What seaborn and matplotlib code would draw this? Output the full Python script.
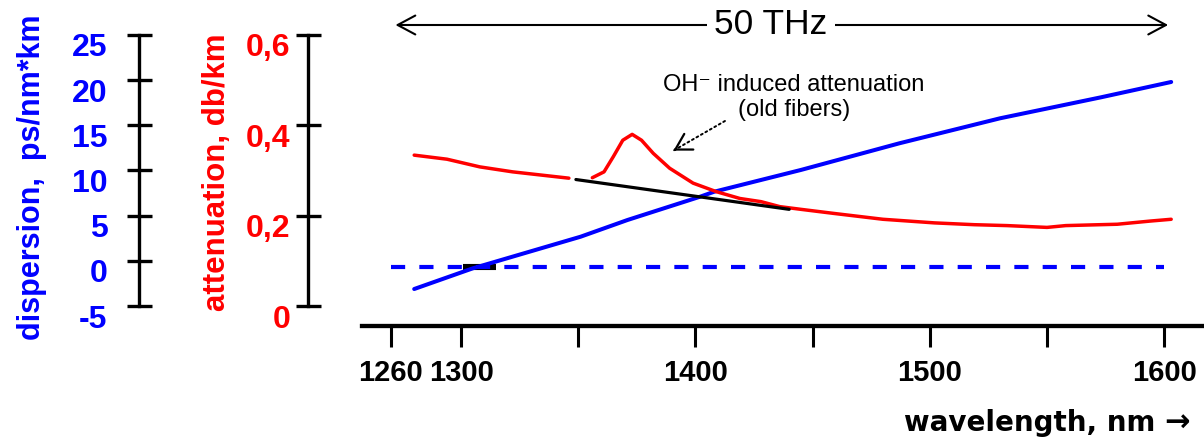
import matplotlib
matplotlib.use('Agg')
import matplotlib.pyplot as plt
import matplotlib.transforms as mtransforms
import seaborn as sns

# dispersion curve, ps/nm*km
disp_wl = [1280, 1305, 1351, 1371, 1402, 1408, 1445, 1487, 1530, 1573, 1603]
disp_val = [-3.12, -0.83, 2.67, 4.52, 7.10, 7.65, 10.06, 13.01, 15.78, 18.10, 19.80]

# zero dispersion reference (dashed) and the short black marker on it
zero_wl = [1270, 1600]
zero_val = [-0.68, -0.68]
zmark_wl = [1301, 1315]

# attenuation, db/km (two pieces, gap near 1350 nm)
att1_wl = [1280, 1294, 1308, 1322, 1346]
att1_val = [0.334, 0.325, 0.308, 0.297, 0.283]
att2_wl = [1356, 1361, 1365, 1369, 1373, 1377, 1382, 1389, 1399, 1409, 1419, 1428,
           1436, 1445, 1459, 1480, 1502, 1519, 1533, 1550, 1558, 1580, 1594, 1603]
att2_val = [0.284, 0.297, 0.331, 0.367, 0.380, 0.367, 0.338, 0.305, 0.272, 0.253, 0.238, 0.231,
            0.220, 0.214, 0.205, 0.192, 0.184, 0.180, 0.178, 0.174, 0.178, 0.181, 0.188, 0.192]

# attenuation without the OH peak (new fibers)
new_wl = [1349, 1440]
new_val = [0.280, 0.214]

x_ticks = [1270, 1300, 1350, 1400, 1450, 1500, 1550, 1600]
x_labels = ['1260', '1300', '', '1400', '', '1500', '', '1600']
d_ticks = [-5, 0, 5, 10, 15, 20, 25]
a_ticks = [0, 0.2, 0.4, 0.6]
a_labels = ['0', '0,2', '0,4', '0,6']

BLUE = '#0000ff'
RED = '#ff0000'

sns.set_style('ticks')
plt.rcParams['font.family'] = ['Liberation Sans', 'DejaVu Sans']
plt.rcParams['text.color'] = 'black'
plt.rcParams['axes.edgecolor'] = 'black'
plt.rcParams['xtick.color'] = 'black'
plt.rcParams['ytick.color'] = 'black'
plt.rcParams['axes.labelcolor'] = 'black'

W, H = 1204, 443
fig = plt.figure(figsize=(W / 100, H / 100), dpi=100)

# main plotting area (bottom spine only)
ax = fig.add_axes([361.7 / W, (H - 326) / H, (W - 361.7) / W, 291 / H])
ax.set_xlim(1257.6, 1617)
ax.set_ylim(-7.214, 25)
sns.despine(ax=ax, left=True)
ax.spines['bottom'].set_linewidth(3.1)
ax.set_yticks([])
ax.set_xticks(x_ticks, labels=x_labels, fontweight='bold', fontsize=21)
ax.tick_params(axis='x', bottom=True, direction='out', length=15, width=2.2, pad=9)
ax.patch.set_alpha(0)

ax2 = ax.twinx()
ax2.set_ylim(-0.0443, 0.6)
ax2.set_axis_off()

sns.lineplot(x=zmark_wl, y=zero_val, ax=ax, color='black', linewidth=4.4,
             solid_capstyle='butt', estimator=None)
sns.lineplot(x=zero_wl, y=zero_val, ax=ax, color=BLUE, linewidth=3,
             linestyle=(0, (3.4, 3.4)), estimator=None)
sns.lineplot(x=disp_wl, y=disp_val, ax=ax, color=BLUE, linewidth=2.9, estimator=None)

sns.lineplot(x=att1_wl, y=att1_val, ax=ax2, color=RED, linewidth=2.5, estimator=None)
sns.lineplot(x=att2_wl, y=att2_val, ax=ax2, color=RED, linewidth=2.5, estimator=None)
sns.lineplot(x=new_wl, y=new_val, ax=ax2, color='black', linewidth=2.3, estimator=None)

# OH annotation: dotted shaft + solid open head
ax2.annotate('', xy=(1390.6, 0.344), xytext=(1412.6, 0.4096),
             arrowprops=dict(arrowstyle='-', linestyle=':', lw=1.4, color='black',
                             shrinkA=0, shrinkB=0))
ax2.annotate('', xy=(1390.6, 0.344), xytext=(1391.6, 0.347),
             arrowprops=dict(arrowstyle='->,head_length=1.12,head_width=0.65',
                             mutation_scale=10, lw=1.6, color='black',
                             shrinkA=0, shrinkB=0))
ax2.text(1442.1, 0.4616, 'OH⁻ induced attenuation\n(old fibers)', ha='center', va='center',
         fontsize=17, linespacing=1.2, fontweight='normal')

# 50 THz span arrow above the plot
y_arrow = 1 - 25 / H
ax.annotate('', xy=(1272, y_arrow), xytext=(1601.7, y_arrow),
            xycoords=('data', 'figure fraction'), textcoords=('data', 'figure fraction'),
            arrowprops=dict(arrowstyle='<->,head_length=1.27,head_width=0.68',
                            mutation_scale=10, lw=1.5, color='black', shrinkA=0, shrinkB=0))
ax.annotate('50 THz', xy=(1432.2, y_arrow), xycoords=('data', 'figure fraction'),
            ha='center', va='center', fontsize=25.5, fontweight='normal',
            bbox=dict(boxstyle='square,pad=0.2', fc='white', ec='none'))

ax.set_xlabel('wavelength, nm', fontsize=20, fontweight='bold', family='DejaVu Sans')
ax.xaxis.set_label_coords(1155 / W, 1 - 423 / H, transform=fig.transFigure)
ax.xaxis.label.set_ha('right')
ax.xaxis.label.set_va('center')
fig.text(1190 / W, 1 - 423 / H, '→', ha='right', va='center', fontsize=22,
         fontweight='bold', family='DejaVu Sans')

label_shift = mtransforms.ScaledTranslation(0, -10 / 100, fig.dpi_scale_trans)

# dispersion scale
ax_d = fig.add_axes([139.3 / W, (H - 306) / H, 0.0005, 271 / H])
ax_d.set_ylim(-5, 25)
ax_d.set_xticks([])
for s in ['top', 'right', 'bottom']:
    ax_d.spines[s].set_visible(False)
ax_d.spines['left'].set_linewidth(2.4)
ax_d.set_yticks(d_ticks, labels=[str(t) for t in d_ticks], fontweight='bold',
                fontsize=23, color=BLUE)
ax_d.tick_params(axis='y', left=True, direction='inout', length=18, width=2.4, pad=14)
for lab in ax_d.get_yticklabels():
    lab.set_transform(lab.get_transform() + label_shift)
ax_d.set_ylabel('dispersion,  ps/nm*km', fontsize=22, fontweight='bold', color=BLUE)
ax_d.yaxis.set_label_coords(32 / W, 1 - 177 / H, transform=fig.transFigure)
ax_d.yaxis.label.set_va('center')

# attenuation scale
ax_a = fig.add_axes([308.3 / W, (H - 306) / H, 0.0005, 271 / H])
ax_a.set_ylim(0, 0.6)
ax_a.set_xticks([])
for s in ['top', 'right', 'bottom']:
    ax_a.spines[s].set_visible(False)
ax_a.spines['left'].set_linewidth(2.4)
ax_a.set_yticks(a_ticks, labels=a_labels, fontweight='bold', fontsize=23, color=RED)
ax_a.tick_params(axis='y', left=True, direction='inout', length=18, width=2.4, pad=4)
for lab in ax_a.get_yticklabels():
    lab.set_transform(lab.get_transform() + label_shift)
ax_a.set_ylabel('attenuation, db/km', fontsize=22.5, fontweight='bold', color=RED)
ax_a.yaxis.set_label_coords(217 / W, 1 - 172 / H, transform=fig.transFigure)
ax_a.yaxis.label.set_va('center')

fig.savefig('out.png', dpi=100)
